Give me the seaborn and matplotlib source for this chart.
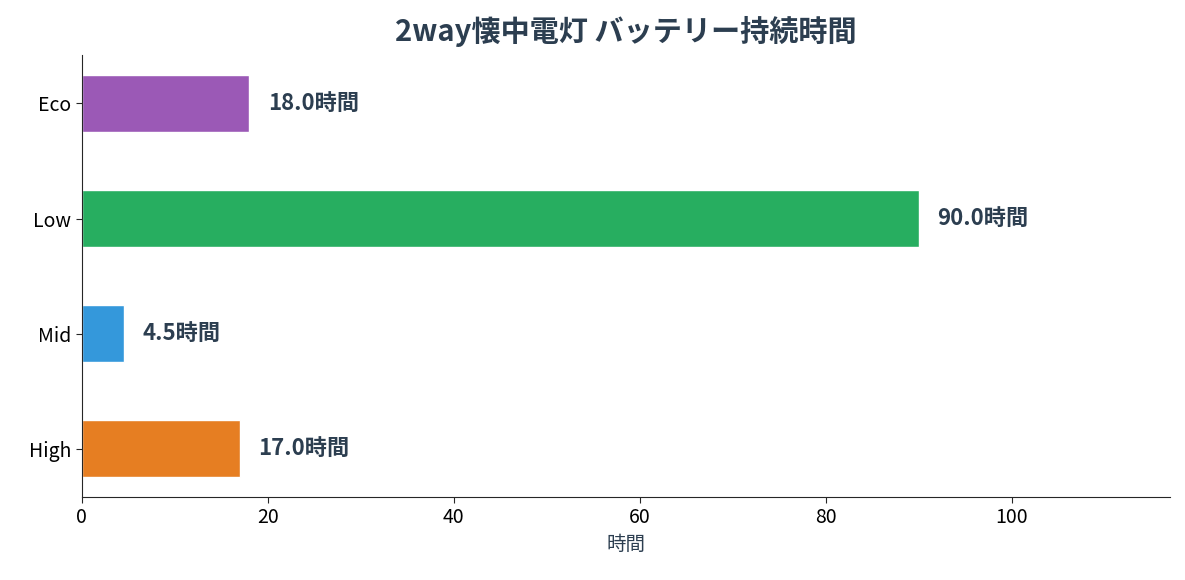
import matplotlib
matplotlib.use("Agg")
import matplotlib.pyplot as plt
import seaborn as sns
import pandas as pd

# data
modes = ["Eco", "Low", "Mid", "High"]
hours = [18.0, 90.0, 4.5, 17.0]
colors = ["#9b59b6", "#27ae60", "#3498db", "#e67e22"]

sns.set_style("white")
plt.rcParams['font.family'] = ['Noto Sans CJK JP', 'DejaVu Sans']

df = pd.DataFrame({"mode": modes, "hours": hours})

fig = plt.figure(figsize=(11.85, 5.8), dpi=100)
ax = fig.add_axes([0.069, 0.143, 0.918, 0.762])
sns.barplot(data=df, x="hours", y="mode", hue="mode", palette=colors,
            width=0.5, legend=False, ax=ax, saturation=1)

for i, v in enumerate(hours):
    ax.text(v + 2, i, f"{v:.1f}時間", va="center", ha="left",
            fontsize=16, fontweight="bold", color="#2c3e50")

ax.set_xlim(0, 117)
ax.set_ylim(3.42, -0.42)
ax.set_xlabel("時間", fontsize=14, color="#2c3e50")
ax.set_ylabel("")
ax.set_title("2way懐中電灯 バッテリー持続時間", fontsize=21, fontweight="bold",
             color="#2c3e50", pad=10)
ax.tick_params(axis="both", labelsize=14, length=4, labelcolor="black",
               left=True, bottom=True)
sns.despine(ax=ax)

fig.savefig("out.png", dpi=100)
